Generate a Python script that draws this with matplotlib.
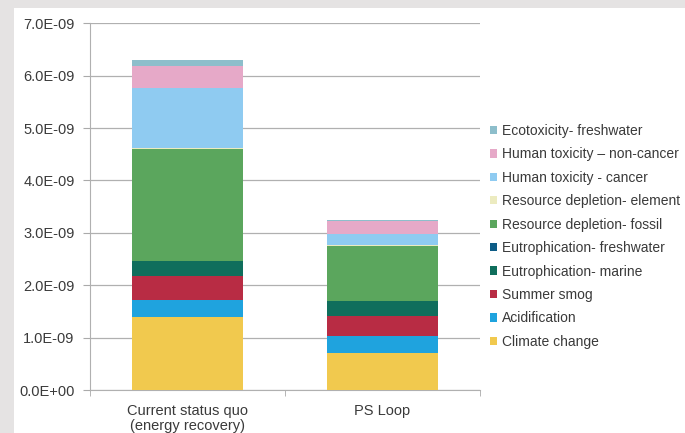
import matplotlib
matplotlib.use("Agg")
import matplotlib.pyplot as plt
from matplotlib.patches import Rectangle
import numpy as np

plt.rcParams['font.family'] = ['Liberation Sans', 'DejaVu Sans']

categories = ["Current status quo\n(energy recovery)", "PS Loop"]
series_names = [
    "Climate change",
    "Acidification",
    "Summer smog",
    "Eutrophication- marine",
    "Eutrophication- freshwater",
    "Resource depletion- fossil",
    "Resource depletion- element",
    "Human toxicity - cancer",
    "Human toxicity \u2013 non-cancer",
    "Ecotoxicity- freshwater",
]
climate_change = [1.40e-9, 0.70e-9]
acidification = [0.32e-9, 0.33e-9]
summer_smog = [0.46e-9, 0.38e-9]
eutro_marine = [0.29e-9, 0.28e-9]
eutro_freshwater = [0.001e-9, 0.001e-9]
res_fossil = [2.12e-9, 1.05e-9]
res_element = [0.02e-9, 0.02e-9]
tox_cancer = [1.15e-9, 0.22e-9]
tox_noncancer = [0.42e-9, 0.24e-9]
ecotox = [0.11e-9, 0.03e-9]
series_values = [climate_change, acidification, summer_smog, eutro_marine,
                 eutro_freshwater, res_fossil, res_element, tox_cancer,
                 tox_noncancer, ecotox]
colors = ["#f1c94e", "#1fa3de", "#b82c44", "#0f6e5c", "#0d5c86",
          "#5ba65d", "#ecebc0", "#8fcbf1", "#e6a9c8", "#8dbecb"]
yticks = [0, 1e-9, 2e-9, 3e-9, 4e-9, 5e-9, 6e-9, 7e-9]
ytick_labels = ["0.0E+00", "1.0E-09", "2.0E-09", "3.0E-09", "4.0E-09",
                "5.0E-09", "6.0E-09", "7.0E-09"]

fig = plt.figure(figsize=(6.85, 4.33), dpi=100)
fig.patch.set_facecolor("white")
gray = "#e5e3e3"
fig.patches.append(Rectangle((0, 0), 14/685, 1, transform=fig.transFigure,
                             facecolor=gray, edgecolor="none", zorder=-10))
fig.patches.append(Rectangle((0, 1 - 8/433), 1, 8/433, transform=fig.transFigure,
                             facecolor=gray, edgecolor="none", zorder=-10))

ax = fig.add_axes([90/685, 1 - 390/433, 390/685, (390 - 23.3)/433])
ax.set_facecolor("white")
x = np.arange(len(categories))
bottom = np.zeros(len(categories))
handles = []
for name, vals, c in zip(series_names, series_values, colors):
    b = ax.bar(x, vals, width=0.565, bottom=bottom, color=c, label=name,
               zorder=3, edgecolor="none")
    handles.append(b)
    bottom += np.array(vals)

ax.set_xlim(-0.5, 1.5)
ax.set_ylim(0, 7e-9)
ax.set_yticks(yticks)
ax.set_yticklabels(ytick_labels, fontsize=10.5, color="#3a3a3a")
ax.set_xticks(x)
ax.set_xticklabels(categories, fontsize=10.5, color="#3a3a3a", linespacing=1.1)
ax.tick_params(axis="x", length=0, pad=10)
ax.set_xticks([-0.5, 0.5, 1.5], minor=True)
ax.tick_params(axis="x", which="minor", length=4, color="#aaaaaa")
ax.tick_params(axis="y", length=5, color="#aaaaaa", pad=6)
ax.grid(axis="y", color="#b0b0b0", linewidth=0.9, zorder=0)
for s in ["top", "right"]:
    ax.spines[s].set_visible(False)
ax.spines["left"].set_color("#b0b0b0")
ax.spines["bottom"].set_color("#b0b0b0")

leg = ax.legend(handles[::-1], series_names[::-1], loc="center left",
                bbox_to_anchor=(1.0, 0.419), frameon=False, fontsize=10,
                handlelength=0.55, handleheight=0.55, handletextpad=0.3,
                labelspacing=0.68, borderaxespad=0.3)
for t in leg.get_texts():
    t.set_color("#3a3a3a")

fig.savefig("out.png", dpi=100, facecolor=fig.get_facecolor())
